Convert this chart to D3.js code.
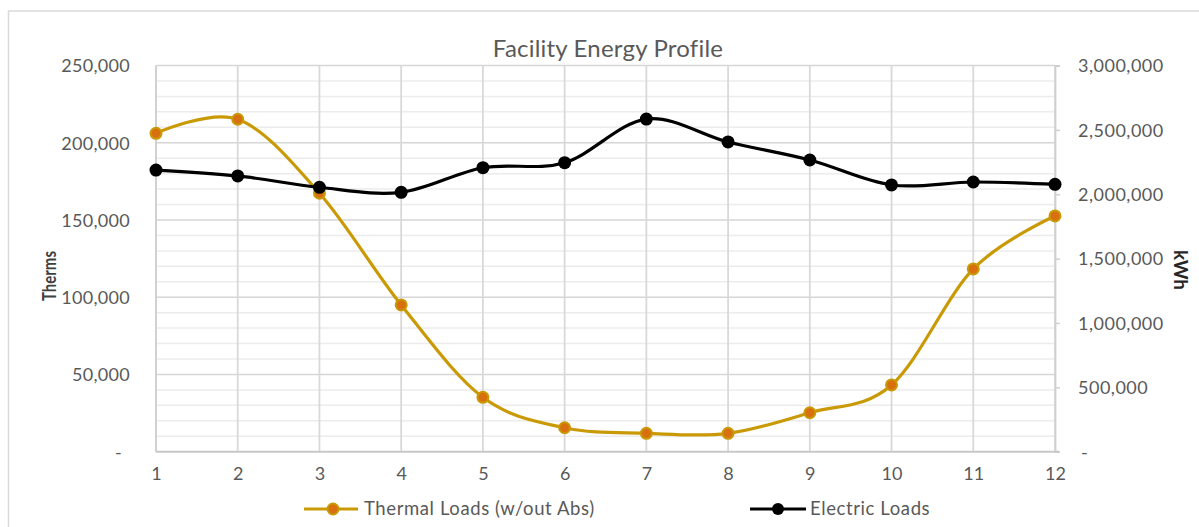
<!DOCTYPE html>
<html>
<head>
<meta charset="utf-8">
<script src="https://cdn.jsdelivr.net/npm/d3@7"></script>
<style>
  html, body { margin: 0; padding: 0; background: #fff; }
  svg { display: block; font-family: Lato, "Open Sans", sans-serif; }
</style>
</head>
<body>
<svg id="chart" width="1199" height="527"></svg>
<script>
// Monthly facility loads
const months = [1, 2, 3, 4, 5, 6, 7, 8, 9, 10, 11, 12];
const thermalTherms = [206100, 215200, 167300, 95000, 35200, 15500, 11900, 11900, 25200, 43200, 118300, 152600];
const electricKWh = [2188000, 2142000, 2054000, 2015000, 2206000, 2245000, 2584000, 2406000, 2266000, 2072000, 2095000, 2077000];

const leftTicks = [0, 50000, 100000, 150000, 200000, 250000];
const rightTicks = [0, 500000, 1000000, 1500000, 2000000, 2500000, 3000000];
const minorStep = 10000;

const chartTitle = "Facility Energy Profile";
const leftAxisTitle = "Therms";
const rightAxisTitle = "kWh";
const seriesNames = ["Thermal Loads (w/out Abs)", "Electric Loads"];

const svg = d3.select("#chart");
const plot = { left: 156, right: 1055, top: 65.5, bottom: 451.7 };

const x = d3.scaleLinear().domain([1, 12]).range([plot.left, plot.right]);
const yL = d3.scaleLinear().domain([0, 250000]).range([plot.bottom, plot.top]);
const yR = d3.scaleLinear().domain([0, 3000000]).range([plot.bottom, plot.top]);

const fmt = v => v === 0 ? "-" : d3.format(",")(v);
const textCol = "#595959";
const tickFont = 18;

// chart frame
svg.append("rect")
  .attr("x", 8.5).attr("y", 11).attr("width", 1220).attr("height", 540)
  .attr("fill", "#fff").attr("stroke", "#d9d9d9").attr("stroke-width", 1.5);

// minor horizontal gridlines
const grid = svg.append("g");
grid.selectAll("line.minor")
  .data(d3.range(0, 250001, minorStep).filter(v => v % 50000 !== 0))
  .join("line")
  .attr("x1", plot.left).attr("x2", plot.right)
  .attr("y1", d => yL(d)).attr("y2", d => yL(d))
  .attr("stroke", "#ececec").attr("stroke-width", 1.5);

// major horizontal gridlines
grid.selectAll("line.major")
  .data(leftTicks.filter(v => v > 0))
  .join("line")
  .attr("x1", plot.left).attr("x2", plot.right)
  .attr("y1", d => yL(d)).attr("y2", d => yL(d))
  .attr("stroke", "#d6d6d6").attr("stroke-width", 1.5);

// vertical gridlines
grid.selectAll("line.vert")
  .data(months)
  .join("line")
  .attr("x1", d => x(d)).attr("x2", d => x(d))
  .attr("y1", plot.top).attr("y2", plot.bottom)
  .attr("stroke", "#d9d9d9").attr("stroke-width", 1.8);

// left axis
const leftAxis = svg.append("g")
  .attr("transform", `translate(${plot.left - 26},0)`)
  .call(d3.axisLeft(yL).tickValues(leftTicks).tickFormat(fmt).tickSize(0).tickPadding(0));
leftAxis.select(".domain").remove();
leftAxis.selectAll("text")
  .attr("fill", textCol).attr("font-size", tickFont)
  .attr("letter-spacing", 0.3)
  .attr("dy", "0.35em")
  .attr("font-family", "Lato, sans-serif");
leftAxis.selectAll("text").filter(d => d === 0).attr("dx", -8);

// right axis with small outward ticks
const rightAxis = svg.append("g")
  .attr("transform", `translate(${plot.right},0)`)
  .call(d3.axisRight(yR).tickValues(rightTicks).tickFormat(fmt).tickSize(5).tickPadding(18));
rightAxis.select(".domain").attr("stroke", "#d0d0d0").attr("stroke-width", 1.8);
rightAxis.selectAll(".tick line").attr("stroke", "#cfcfcf").attr("stroke-width", 1.5);
rightAxis.selectAll("text")
  .attr("fill", textCol).attr("font-size", tickFont)
  .attr("letter-spacing", 0.5)
  .attr("dy", "0.35em")
  .attr("font-family", "Lato, sans-serif");
rightAxis.selectAll("text").filter(d => d === 0).attr("dx", 3);

// left axis line
svg.append("line")
  .attr("x1", plot.left).attr("x2", plot.left)
  .attr("y1", plot.top).attr("y2", plot.bottom)
  .attr("stroke", "#d0d0d0").attr("stroke-width", 1.8);

// bottom axis
const bottomAxis = svg.append("g")
  .attr("transform", `translate(0,${plot.bottom})`)
  .call(d3.axisBottom(x).tickValues(months).tickFormat(d3.format("d")).tickSize(0).tickPadding(22));
bottomAxis.select(".domain")
  .attr("stroke", "#c8c8c8").attr("stroke-width", 2)
  .attr("d", `M${plot.left},0H${plot.right + 4}`);
bottomAxis.selectAll("text")
  .attr("fill", textCol).attr("font-size", tickFont)
  .attr("dy", "0.35em")
  .attr("font-family", "Lato, sans-serif");

// title
svg.append("text")
  .attr("x", 608).attr("y", 49)
  .attr("text-anchor", "middle").attr("dy", "0.35em")
  .attr("fill", textCol).attr("font-size", 24)
  .attr("letter-spacing", 0.2)
  .attr("font-family", "Lato, sans-serif")
  .text(chartTitle);

// axis titles
svg.append("text")
  .attr("transform", "translate(49,276) rotate(-90)")
  .attr("text-anchor", "middle").attr("dy", "0.35em")
  .attr("fill", "#404040").attr("font-size", 19).attr("font-weight", "bold")
  .attr("textLength", 50).attr("lengthAdjust", "spacingAndGlyphs")
  .attr("font-family", "Lato, sans-serif")
  .text(leftAxisTitle);

svg.append("text")
  .attr("transform", "translate(1181,270) rotate(90)")
  .attr("text-anchor", "middle").attr("dy", "0.35em")
  .attr("fill", "#262626").attr("font-size", 19).attr("font-weight", "bold")
  .attr("textLength", 40).attr("lengthAdjust", "spacingAndGlyphs")
  .attr("font-family", "Lato, sans-serif")
  .text(rightAxisTitle);

// series
const smooth = d3.curveCardinal.tension(0);
const thermalColor = "#C99A06";
const thermalMarker = "#D9700F";

const thermalLine = d3.line().x((d, i) => x(months[i])).y(d => yL(d)).curve(smooth);
const electricLine = d3.line().x((d, i) => x(months[i])).y(d => yR(d)).curve(smooth);

svg.append("path")
  .datum(thermalTherms)
  .attr("d", thermalLine)
  .attr("fill", "none").attr("stroke", thermalColor).attr("stroke-width", 3.2)
  .attr("stroke-linecap", "round");

svg.append("path")
  .datum(electricKWh)
  .attr("d", electricLine)
  .attr("fill", "none").attr("stroke", "#000").attr("stroke-width", 3.2)
  .attr("stroke-linecap", "round");

svg.append("g").selectAll("circle")
  .data(thermalTherms)
  .join("circle")
  .attr("cx", (d, i) => x(months[i])).attr("cy", d => yL(d))
  .attr("r", 5.5)
  .attr("fill", thermalMarker).attr("stroke", thermalColor).attr("stroke-width", 2);

svg.append("g").selectAll("circle")
  .data(electricKWh)
  .join("circle")
  .attr("cx", (d, i) => x(months[i])).attr("cy", d => yR(d))
  .attr("r", 6.5)
  .attr("fill", "#000");

// legend
const legend = svg.append("g").attr("font-family", "Lato, sans-serif");
const legendItems = [
  { name: seriesNames[0], x0: 304, x1: 358, mx: 333, tx: 364, stroke: thermalColor, fill: thermalMarker, r: 5.5, sw: 2 },
  { name: seriesNames[1], x0: 750, x1: 806, mx: 778, tx: 810, stroke: "#000", fill: "#000", r: 6, sw: 0 }
];
const ly = 509;
legendItems.forEach(it => {
  legend.append("line")
    .attr("x1", it.x0).attr("x2", it.x1).attr("y1", ly).attr("y2", ly)
    .attr("stroke", it.stroke).attr("stroke-width", 3.2);
  legend.append("circle")
    .attr("cx", it.mx).attr("cy", ly).attr("r", it.r)
    .attr("fill", it.fill).attr("stroke", it.stroke).attr("stroke-width", it.sw);
  legend.append("text")
    .attr("x", it.tx).attr("y", ly).attr("dy", "0.35em")
    .attr("fill", textCol).attr("font-size", 18.5)
    .attr("letter-spacing", 0.6)
    .text(it.name);
});
</script>
</body>
</html>
